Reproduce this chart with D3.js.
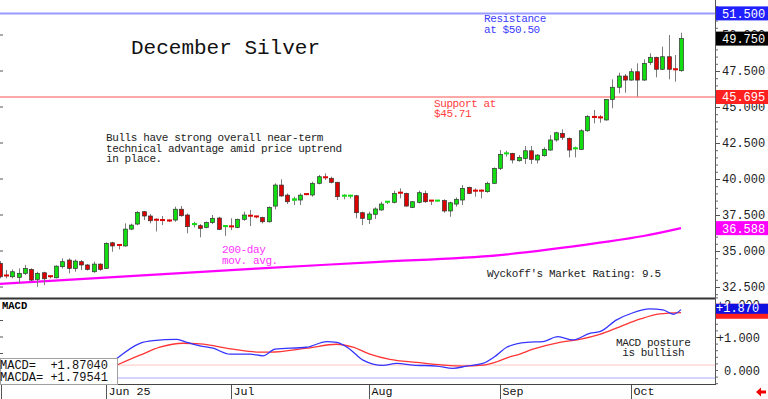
<!DOCTYPE html>
<html>
<head>
<meta charset="utf-8">
<script src="https://cdn.jsdelivr.net/npm/d3@7"></script>
<style>
  body { margin: 0; background: #fff; }
  svg { display: block; }
  text { font-family: "Liberation Mono", "DejaVu Sans Mono", monospace; }
</style>
</head>
<body>
<script>
// daily candles, [open, high, low, close]
const ohlc = [
  [34.14,34.30,33.10,33.21],[33.30,33.68,33.10,33.27],[33.21,33.72,33.10,33.56],[33.17,33.79,32.75,33.45],
  [33.45,34.03,33.33,33.79],[33.72,33.80,32.90,32.98],[33.03,33.56,32.52,33.45],[33.49,33.56,32.63,33.07],
  [33.25,33.30,33.10,33.14],[33.14,34.00,33.10,33.95],[33.91,34.49,33.79,34.26],[34.37,34.49,33.45,33.79],
  [33.79,34.42,33.56,34.30],[34.26,34.37,33.68,34.03],[34.03,34.10,33.65,33.72],[33.56,34.26,33.49,34.09],
  [34.09,34.14,33.63,33.72],[33.79,35.60,33.75,35.53],[35.57,35.64,34.95,35.35],[35.42,35.48,35.11,35.30],
  [35.35,36.92,35.30,36.52],[36.52,36.90,36.45,36.80],[36.87,37.78,36.80,37.68],[37.73,37.78,37.15,37.43],
  [37.43,37.57,36.92,37.10],[37.17,37.27,36.35,37.15],[37.15,37.43,36.80,37.03],[37.12,37.20,37.00,37.10],
  [37.15,38.08,37.03,37.90],[37.90,38.12,37.38,37.45],[37.50,37.61,36.23,36.69],[36.73,37.03,36.64,36.87],
  [36.76,36.87,35.95,36.57],[36.64,37.05,36.58,36.97],[36.97,37.50,36.87,37.27],[37.29,37.38,36.45,36.50],
  [36.64,36.80,36.05,36.73],[36.71,37.27,36.45,36.60],[36.64,37.25,36.58,37.20],[37.20,37.73,37.10,37.50],
  [37.45,37.85,36.73,37.38],[37.40,37.45,37.27,37.38],[37.32,37.38,36.92,37.03],[37.03,38.10,36.98,38.03],
  [38.12,39.70,37.89,39.58],[39.58,39.98,38.77,38.82],[38.88,39.00,38.26,38.42],[38.42,38.77,38.19,38.59],
  [38.54,39.00,38.19,38.88],[38.95,39.00,38.88,38.92],[38.89,39.81,38.77,39.70],[39.70,40.28,39.63,40.16],
  [40.12,40.39,39.93,39.98],[40.05,40.16,39.70,39.77],[39.77,39.81,38.54,38.77],[38.70,38.95,38.59,38.84],
  [38.72,38.90,38.65,38.84],[38.84,38.89,37.27,37.66],[37.66,37.73,36.80,37.27],[37.20,37.73,36.87,37.57],
  [37.55,38.03,37.22,37.92],[37.85,38.42,37.80,38.26],[38.31,38.47,38.26,38.42],[38.38,39.19,38.31,39.00],
  [39.05,39.35,38.66,38.98],[39.00,39.05,38.08,38.12],[38.03,38.47,37.98,38.42],[38.38,39.19,38.31,39.05],
  [39.00,39.19,38.35,38.42],[38.50,38.54,38.19,38.47],[38.47,38.54,38.42,38.50],[38.50,38.59,37.66,37.78],
  [37.78,38.42,37.38,38.35],[38.26,38.72,38.08,38.59],[38.54,39.58,38.19,39.35],[39.42,39.47,38.95,39.00],
  [39.19,39.35,38.77,39.10],[39.19,39.28,38.66,39.12],[39.12,39.81,39.05,39.70],[39.70,40.80,39.65,40.74],
  [40.74,42.01,40.62,41.71],[41.69,41.96,41.55,41.78],[41.78,41.82,41.08,41.32],[41.27,41.66,41.20,41.50],
  [41.43,42.29,41.04,41.96],[41.96,42.29,41.04,41.36],[41.32,41.73,41.08,41.66],[41.62,42.20,41.55,42.06],
  [42.01,43.05,41.96,42.71],[42.71,43.28,42.59,43.21],[43.17,43.45,42.71,42.89],[42.82,42.89,41.50,42.01],
  [42.01,42.25,41.50,42.13],[42.06,43.45,42.01,43.35],[43.35,44.44,43.28,44.33],[44.31,44.79,43.86,44.28],
  [44.28,44.44,43.91,44.14],[44.10,45.55,44.05,45.53],[45.53,46.92,44.91,46.37],[46.37,47.38,45.95,47.15],
  [47.15,47.29,45.99,46.87],[46.87,47.68,46.83,47.45],[47.45,48.03,45.72,46.87],[46.87,48.31,46.83,48.03],
  [48.08,48.73,47.92,48.45],[48.45,48.49,47.06,47.62],[47.62,49.19,47.57,48.49],[48.49,50.00,46.92,47.62],
  [47.62,48.61,46.76,47.52],[47.52,50.16,47.45,49.75]
];

// 200-day moving average, [candle index, value]
const movAvg = [[0,32.71],[41,33.78],[60,34.23],[80,34.72],[96,35.58],[103,36.04],[109,36.59]];

// MACD and its average, [candle index, value]
const macd = [[18.7,0.35],[22.4,0.81],[24.5,0.89],[28.3,0.93],[29.9,0.84],[32,0.73],[34.1,0.66],[36.8,0.48],
  [40,0.48],[42.1,0.43],[44,0.63],[49.1,0.69],[52.3,0.86],[53.9,0.84],[56,0.63],[58.1,0.30],[61.3,0.14],
  [63.5,0.20],[66.1,0.15],[69.9,0.12],[72.5,0.05],[74.7,0.12],[77.3,0.20],[79.5,0.45],[81.1,0.69],[84.3,0.84],
  [86.9,0.86],[89.3,1.01],[91.7,0.91],[94.4,1.11],[96,1.16],[98.7,1.52],[101.1,1.72],[104,1.85],[106.1,1.82],
  [107.8,1.69],[109,1.83]];
const macdAvg = [[18.7,0.15],[22.4,0.45],[25.6,0.69],[29.3,0.81],[32,0.79],[37.3,0.63],[41.6,0.54],[43.2,0.54],
  [49.1,0.66],[53.9,0.78],[56.5,0.69],[59.2,0.48],[62.4,0.32],[66.7,0.23],[70.9,0.15],[74.1,0.12],[77.3,0.15],
  [79.5,0.25],[81.6,0.40],[82.7,0.45],[85.3,0.63],[89.6,0.84],[92.8,0.93],[96,1.08],[99.2,1.31],[102.4,1.54],
  [105.6,1.70],[109,1.74]];

const months = [[17, 'Jun 25'], [37, 'Jul'], [59, 'Aug'], [80, 'Sep'], [101, 'Oct']];
const priceTicks = [32.5, 35, 37.5, 40, 42.5, 45, 47.5, 50];
const macdTicks = [0, 1, 2];

const resistance = 51.5, support = 45.695, lastClose = 49.75, lastMA = 36.588;
const macdLast = 1.8704, macdAvgLast = 1.79541;

const W = 768, H = 399, axisX = 715;
const svg = d3.select('body').append('svg').attr('width', W).attr('height', H);

const x = d3.scaleLinear().domain([0, 109]).range([0, 681]);
const y = d3.scaleLinear().domain([40, 50]).range([179, 35]);
const ym = d3.scaleLinear().domain([0, 2]).range([370, 304]);

svg.append('defs').append('clipPath').attr('id', 'pclip')
  .append('rect').attr('x', 0).attr('y', 0).attr('width', axisX).attr('height', 298);

// horizontal levels
svg.append('line').attr('x1', 0).attr('x2', axisX).attr('y1', y(resistance)).attr('y2', y(resistance))
  .attr('stroke', '#9a9aff').attr('stroke-width', 2);
svg.append('line').attr('x1', 0).attr('x2', axisX).attr('y1', y(support)).attr('y2', y(support))
  .attr('stroke', '#ffa8a8').attr('stroke-width', 2);

// 200-day avg
const pg = svg.append('g').attr('clip-path', 'url(#pclip)');
pg.append('path').datum(movAvg)
  .attr('d', d3.line().x(d => x(d[0])).y(d => y(d[1])).curve(d3.curveMonotoneX))
  .attr('fill', 'none').attr('stroke', '#ff00ff').attr('stroke-width', 2.2);

// candles
const c = pg.selectAll('g.c').data(ohlc).enter().append('g')
  .attr('transform', (d, i) => `translate(${Math.round(x(i)) + 0.5},0)`);
c.append('line').attr('y1', d => y(d[1])).attr('y2', d => y(d[2]))
  .attr('stroke', '#7c7c7c').attr('stroke-width', 1);
c.each(function(d) {
  const g = d3.select(this);
  const up = d[3] >= d[0];
  const col = up ? '#11dd11' : '#dd0000';
  const top = y(Math.max(d[0], d[3])), h = Math.abs(y(d[0]) - y(d[3]));
  if (h < 2.5) {
    g.append('rect').attr('x', -2.5).attr('y', top - 1).attr('width', 5).attr('height', Math.max(h, 2))
      .attr('fill', col);
  } else {
    g.append('rect').attr('x', -2).attr('y', top).attr('width', 4).attr('height', h)
      .attr('fill', col).attr('stroke', '#333').attr('stroke-width', 0.7);
  }
});

// right axis
svg.append('line').attr('x1', axisX + 0.5).attr('x2', axisX + 0.5).attr('y1', 0).attr('y2', 384)
  .attr('stroke', '#555');
svg.append('g').attr('transform', `translate(${axisX},0)`)
  .call(d3.axisRight(y).tickValues(d3.range(32, 52.5, 0.5)).tickSize(3).tickFormat(''))
  .call(g => g.select('.domain').remove())
  .call(g => g.selectAll('line').attr('stroke', '#666'));
svg.append('g').attr('transform', `translate(${axisX},0)`)
  .call(d3.axisRight(y).tickValues(priceTicks).tickSize(5).tickPadding(2).tickFormat(d3.format('.3f')))
  .call(g => g.select('.domain').remove())
  .call(g => g.selectAll('line').attr('stroke', '#555'))
  .call(g => g.selectAll('text').attr('font-family', '"Liberation Mono", monospace')
    .attr('font-size', 12).attr('fill', '#222'));

// left edge ticks
svg.append('g').selectAll('line').data(priceTicks).enter().append('line')
  .attr('x1', 0).attr('x2', 3).attr('y1', d => y(d)).attr('y2', d => y(d)).attr('stroke', '#555');
svg.append('g').selectAll('line').data([0.5, 1, 1.5]).enter().append('line')
  .attr('x1', 0).attr('x2', 3).attr('y1', d => ym(d)).attr('y2', d => ym(d)).attr('stroke', '#555');

// value boxes on the axis
const boxes = [[resistance, '#2020ff'], [lastClose, '#000'], [support, '#ff2020'], [lastMA, '#ff00ff']];
boxes.forEach(([v, bg]) => {
  svg.append('rect').attr('x', axisX + 1).attr('y', y(v) - 7).attr('width', W - axisX - 1).attr('height', 14)
    .attr('fill', bg);
  svg.append('text').attr('x', 722).attr('y', y(v) + 4.5).attr('font-size', 12).attr('fill', '#fff')
    .text(d3.format('.3f')(v));
});

// texts in price panel
svg.append('text').attr('x', 131).attr('y', 54).attr('font-size', 21).attr('fill', '#111').text('December Silver');
function lines(xp, y0, dy, arr, col) {
  arr.forEach((t, i) => svg.append('text').attr('x', xp).attr('y', y0 + i * dy).attr('font-size', 11)
    .attr('letter-spacing', -0.4).attr('fill', col).attr('xml:space', 'preserve').text(t));
}
lines(106, 141, 10.5, ['Bulls have strong overall near-term', 'technical advantage amid price uptrend', 'in place.'], '#222');
lines(484, 22, 11, ['Resistance', 'at $50.50'], '#3c3cff');
lines(434, 107, 10, ['Support at', '$45.71'], '#ff4040');
lines(222, 253, 11, ['200-day', 'mov. avg.'], '#ff33ff');
lines(487, 277, 11, ["Wyckoff's Market Rating: 9.5"], '#222');

// MACD panel
svg.append('line').attr('x1', 0).attr('x2', axisX).attr('y1', ym(0.15)).attr('y2', ym(0.15))
  .attr('stroke', '#ffc4c4');
svg.append('line').attr('x1', 0).attr('x2', axisX).attr('y1', ym(-0.24)).attr('y2', ym(-0.24))
  .attr('stroke', '#c4c4ff').attr('stroke-width', 1.5);

const ml = d3.line().x(d => x(d[0])).y(d => ym(d[1])).curve(d3.curveMonotoneX);
svg.append('path').datum(macdAvg).attr('d', ml).attr('fill', 'none').attr('stroke', '#ff3434').attr('stroke-width', 1.3);
svg.append('path').datum(macd).attr('d', ml).attr('fill', 'none').attr('stroke', '#3434ff').attr('stroke-width', 1.3);

svg.append('g').attr('transform', `translate(${axisX},0)`)
  .call(d3.axisRight(ym).tickValues(d3.range(-0.4, 2.21, 0.2)).tickSize(3).tickFormat(''))
  .call(g => g.select('.domain').remove())
  .call(g => g.selectAll('line').attr('stroke', '#666'));
svg.append('g').selectAll('text').data(macdTicks).enter().append('text')
  .attr('x', 760).attr('y', d => ym(d) + 4.5).attr('text-anchor', 'end').attr('font-size', 12).attr('fill', '#222')
  .text(d => d === 0 ? '0.000' : d3.format('+.3f')(d));

svg.append('rect').attr('x', axisX + 1).attr('y', ym(macdLast) - 4.5).attr('width', W - axisX - 1).attr('height', 15)
  .attr('fill', '#ff2020');
svg.append('rect').attr('x', axisX + 1).attr('y', ym(macdLast) - 4.5).attr('width', W - axisX - 1).attr('height', 10)
  .attr('fill', '#1010e0');
svg.append('text').attr('x', 716).attr('y', ym(macdLast) + 4).attr('font-size', 12).attr('fill', '#fff')
  .text(d3.format('+.3f')(macdLast));

// panel borders
svg.append('line').attr('x1', 0).attr('x2', axisX).attr('y1', 298.5).attr('y2', 298.5)
  .attr('stroke', '#333').attr('stroke-width', 2);
svg.append('line').attr('x1', 0).attr('x2', axisX + 1).attr('y1', 384.5).attr('y2', 384.5).attr('stroke', '#444');
svg.append('text').attr('x', 2).attr('y', 309).attr('font-family', '"Liberation Sans", Arial, sans-serif')
  .attr('font-weight', 'bold').attr('font-size', 10.5).attr('fill', '#000').text('MACD');

lines(616, 346, 10, ['MACD posture', ' is bullish'], '#222');

// legend box
svg.append('rect').attr('x', 0.5).attr('y', 358.5).attr('width', 117).attr('height', 26)
  .attr('fill', '#fff').attr('stroke', '#a0a0a0');
svg.append('text').attr('x', 0).attr('y', 368.5).attr('font-size', 12).attr('fill', '#111')
  .attr('xml:space', 'preserve').text('MACD=  ' + d3.format('+.5f')(macdLast));
svg.append('text').attr('x', 0).attr('y', 381).attr('font-size', 12).attr('fill', '#111')
  .attr('xml:space', 'preserve').text('MACDA= ' + d3.format('+.5f')(macdAvgLast));

// month axis
const mg = svg.append('g').selectAll('g').data(months).enter().append('g')
  .attr('transform', d => `translate(${Math.round(x(d[0])) + 0.5},0)`);
mg.append('line').attr('y1', 385).attr('y2', 399).attr('stroke', '#555');
mg.append('text').attr('x', 2).attr('y', 395).attr('font-size', 11.7).attr('fill', '#111').text(d => d[1]);
svg.append('line').attr('x1', 1.5).attr('x2', 1.5).attr('y1', 385).attr('y2', 399).attr('stroke', '#555');

// scroll arrow
svg.append('path').attr('d', 'M756,392 L761,387.5 L761,390.5 L766,390.5 L766,393.5 L761,393.5 L761,396.5 Z')
  .attr('fill', '#ee0000');
</script>
</body>
</html>
